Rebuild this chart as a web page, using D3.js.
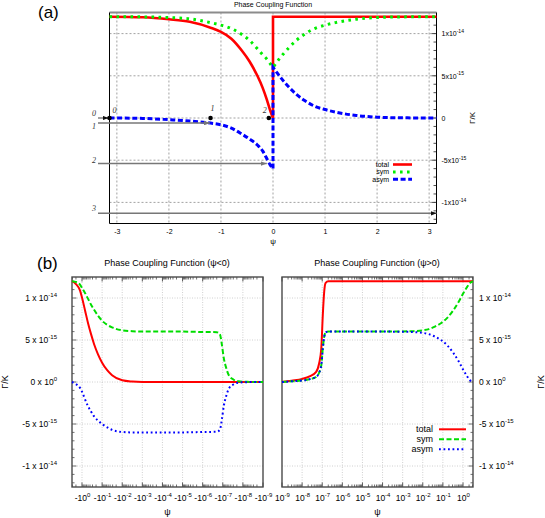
<!DOCTYPE html>
<html><head><meta charset="utf-8">
<script src="https://cdn.jsdelivr.net/npm/d3@7"></script>
<style>
body{margin:0;background:#fff}
svg{display:block;font-family:"Liberation Sans",Arial,sans-serif}
</style></head><body>
<svg id="c" width="545" height="518"></svg>
<script>
// ---------------- DATA (values in units of 1e-15) ----------------
// Panel (a): psi from -pi to pi (0 appears twice: left / right limit)
const psiA   = [-3.1416,-2.5,-2,-1.6,-1.2,-1.0,-0.8,-0.6,-0.45,-0.3,-0.2,-0.12,-0.06,-0.02,0,
                0,0.06,0.12,0.2,0.3,0.45,0.6,0.8,1.0,1.2,1.6,2.0,2.5,3.1416];
const totalA = [12,11.93,11.7,11.4,10.7,10.2,9.4,8.0,6.7,5.0,3.6,2.2,1.0,0.3,0,
                12,12,12,12,12,12,12,12,12,12,12,12,12,12];
const symA   = [12,11.98,11.9,11.75,11.3,11.0,10.6,9.9,9.2,8.2,7.5,7.0,6.5,6.15,6.0,
                6.0,6.5,7.0,7.6,8.3,9.2,9.9,10.6,11.0,11.3,11.7,11.9,11.98,12];
const asymA  = [0,-0.05,-0.2,-0.35,-0.6,-0.8,-1.2,-1.9,-2.5,-3.2,-3.9,-4.8,-5.5,-5.85,-6.0,
                6.0,5.5,5.0,4.4,3.7,2.8,2.1,1.4,1.0,0.7,0.3,0.1,0.02,0];
const xTicksA = [-3,-2,-1,0,1,2,3];
const xLabelsA = ["-3","-2","-1","0","1","2","3"];
const yTicksA = [10,5,0,-5,-10];
const yLabelsA = [["1x10","-14"],["5x10","-15"],["0",""],["-5x10","-15"],["-1x10","-14"]];
// annotation points and arrows in (a)
const annPsi = [-3.1416,-1.2,-0.08];
const annLabels = ["0","1","2"];
const arrowLabels = ["0","1","2","3"];
const arrowLevel = [0,-0.6,-5.4,-11.3];
const arrowEnd = [-3.1416,-1.21,-0.12,3.1416];

// Panel (b) left: psi < 0
const psiBL   = [-3.1416,-2,-1.26,-1,-0.71,-0.5,-0.355,-0.25,-0.16,-0.1,-0.056,-0.032,-0.01,-3.2e-3,-1e-3,-1e-4,-1e-5,-1e-6,-2e-7,-1.4e-7,-1.1e-7,-9e-8,-7e-8,-5e-8,-3e-8,-1.6e-8,-6e-9,-1e-9];
const totalBL = [12,11.65,10.9,10.05,8.55,7.0,5.7,4.5,3.3,2.3,1.4,0.8,0.2,0.05,0,0,0,0,0,0,0,0,0,0,0,0,0,0];
const symBL   = [12,11.9,11.6,11.2,10.6,9.9,9.2,8.6,7.9,7.3,6.8,6.5,6.15,6.05,6.0,6.0,6.0,5.95,5.93,5.7,4.4,2.9,1.8,0.8,0.3,0.08,0.02,0];
const asymBL  = [0,-0.25,-0.7,-1.15,-2.05,-2.9,-3.5,-4.1,-4.6,-5.0,-5.4,-5.7,-5.95,-6.0,-6.0,-6.0,-6.0,-5.95,-5.93,-5.7,-4.4,-2.9,-1.8,-0.8,-0.3,-0.08,-0.02,0];
// Panel (b) right: psi > 0
const psiBR   = [1e-9,3e-9,1e-8,2.5e-8,5e-8,7e-8,9e-8,1.07e-7,1.26e-7,1.48e-7,2e-7,3e-7,1e-6,1e-5,1e-4,1e-3,3.2e-3,0.01,0.02,0.04,0.08,0.16,0.32,0.63,1,1.58,2.24,3.1416];
const totalBR = [0,0.16,0.36,0.7,1.2,2.2,4.0,8.0,10.8,11.8,12,12,12,12,12,12,12,12,12,12,12,12,12,12,12,12,12,12];
const symBR   = [0,0.08,0.18,0.35,0.6,1.1,2.0,4.0,5.4,5.9,6.0,6.0,6.0,6.0,6.0,6.02,6.05,6.15,6.3,6.6,7.0,7.6,8.5,9.6,10.5,11.3,11.8,12];
const asymBR  = [0,0.08,0.18,0.35,0.6,1.1,2.0,4.0,5.4,5.9,6.0,6.0,6.0,6.0,6.0,5.98,5.95,5.85,5.7,5.4,5.0,4.4,3.5,2.4,1.5,0.7,0.2,0];
const decadesB = [1,1e-1,1e-2,1e-3,1e-4,1e-5,1e-6,1e-7,1e-8,1e-9];
const xLabelsBL = [["-10","0"],["-10","-1"],["-10","-2"],["-10","-3"],["-10","-4"],["-10","-5"],["-10","-6"],["-10","-7"],["-10","-8"],["-10","-9"]];
const xLabelsBR = [["10","0"],["10","-1"],["10","-2"],["10","-3"],["10","-4"],["10","-5"],["10","-6"],["10","-7"],["10","-8"],["10","-9"]];
const yTicksB = [10,5,0,-5,-10];
const yLabelsB = [["1 x 10","-14"],["5 x 10","-15"],["0 x 10","0"],["-5 x 10","-15"],["-1 x 10","-14"]];
const seriesNames = ["total","sym","asym"];

// ---------------- DRAW ----------------
const svg = d3.select("#c");
const defs = svg.append("defs");
function marker(id, color){
  defs.append("marker").attr("id",id).attr("viewBox","0 0 8 6").attr("refX",8).attr("refY",3)
    .attr("markerWidth",6).attr("markerHeight",4.5).attr("orient","auto").attr("markerUnits","userSpaceOnUse")
    .append("path").attr("d","M0,0L8,3L0,6z").attr("fill",color);
}
marker("arrG","#777"); marker("arrK","#111");

function supify(sel, labels, fs, ss){
  sel.each(function(d,i){
    const t=d3.select(this); const L=labels[i]; t.text(null);
    t.append("tspan").text(L[0]);
    if(L[1]) t.append("tspan").attr("dy",-fs*0.45).attr("font-size",ss).text(L[1]);
  });
}

// ===== Panel (a) =====
const xA = d3.scaleLinear().domain([-3.1416,3.1416]).range([109.5,436.5]);
const yA = d3.scaleLinear().domain([-12.5,12.5]).range([223.5,12.5]);
const gA = svg.append("g");
// grid
gA.append("g").selectAll("line").data(xTicksA).join("line")
  .attr("x1",d=>xA(d)).attr("x2",d=>xA(d)).attr("y1",yA(12.5)).attr("y2",yA(-12.5))
  .attr("stroke","#8a8a8a").attr("stroke-width",0.8).attr("stroke-dasharray","2,2");
gA.append("g").selectAll("line").data(yTicksA).join("line")
  .attr("x1",xA(-3.1416)).attr("x2",xA(3.1416)).attr("y1",d=>yA(d)).attr("y2",d=>yA(d))
  .attr("stroke","#8a8a8a").attr("stroke-width",0.8).attr("stroke-dasharray","2,2");
// right minor ticks
const minorA = d3.range(-12,13,1);
gA.append("g").selectAll("line").data(minorA).join("line")
  .attr("x1",xA(3.1416)).attr("x2",d=>xA(3.1416)-(d%5===0?5:3)).attr("y1",d=>yA(d)).attr("y2",d=>yA(d))
  .attr("stroke","#222").attr("stroke-width",0.8);
// frame
gA.append("line").attr("x1",xA(-3.1416)).attr("x2",xA(3.1416)).attr("y1",yA(12.5)).attr("y2",yA(12.5)).attr("stroke","#8c8c8c").attr("stroke-width",2.2);
gA.append("path").attr("d",`M${xA(-3.1416)},${yA(12.5)}V${yA(-12.5)}H${xA(3.1416)}V${yA(12.5)}`)
  .attr("fill","none").attr("stroke","#000").attr("stroke-width",1);
// axes
const axA = gA.append("g").attr("transform",`translate(0,${yA(-12.5)})`)
  .call(d3.axisBottom(xA).tickValues(xTicksA).tickSize(0).tickPadding(6).tickFormat((d,i)=>xLabelsA[i]));
axA.select(".domain").remove();
axA.selectAll("text").attr("font-size",7).attr("fill","#000").attr("font-family","Liberation Sans,Arial");
const ayA = gA.append("g").attr("transform",`translate(${xA(3.1416)},0)`)
  .call(d3.axisRight(yA).tickValues(yTicksA).tickSize(0).tickPadding(5));
ayA.select(".domain").remove();
ayA.selectAll("text").attr("font-size",7).attr("fill","#000").attr("font-family","Liberation Sans,Arial");
supify(ayA.selectAll("text"), yLabelsA, 7, 5);

// curves (a)
function segPath(xs, ys, xf, yf){
  const k = xs.indexOf(0);
  const pts = xs.map((x,i)=>[xf(x),yf(ys[i])]);
  const lg = d3.line().curve(d3.curveMonotoneX);
  return lg(pts.slice(0,k+1)) + lg(pts.slice(k+1)).replace(/^M/,"L");
}
gA.append("path").attr("d",segPath(psiA,totalA,xA,yA)).attr("fill","none").attr("stroke","#ff0000").attr("stroke-width",2.6);
gA.append("path").attr("d",segPath(psiA,symA,xA,yA)).attr("fill","none").attr("stroke","#00ee00").attr("stroke-width",3).attr("stroke-dasharray","2.6,4.4");
gA.append("path").attr("d",segPath(psiA,asymA,xA,yA)).attr("fill","none").attr("stroke","#0000ff").attr("stroke-width",3).attr("stroke-dasharray","5,2.6");

// annotations (a)
const arrowLabelOffset = [-2.5, 5.5, -1, -2];
gA.append("g").selectAll("line").data(arrowLevel).join("line")
  .attr("x1",98).attr("x2",(d,i)=>xA(arrowEnd[i])-(i===0?1:0)).attr("y1",d=>yA(d)).attr("y2",d=>yA(d))
  .attr("stroke",(d,i)=>i===0?"#111":"#777").attr("stroke-width",(d,i)=>i===0?0.8:1.5)
  .attr("marker-end",(d,i)=>i===0||i===3?"url(#arrK)":"url(#arrG)");
gA.append("g").selectAll("text").data(arrowLabels).join("text")
  .attr("x",96).attr("y",(d,i)=>yA(arrowLevel[i])+arrowLabelOffset[i])
  .attr("text-anchor","end").attr("font-family","Liberation Serif,serif").attr("font-style","italic")
  .attr("font-size",8).attr("fill","#333").text(d=>d);
gA.append("g").selectAll("circle").data(annPsi).join("circle")
  .attr("cx",d=>xA(d)).attr("cy",yA(0)).attr("r",2.3).attr("fill","#000");
gA.append("g").selectAll("text").data(annPsi).join("text")
  .attr("x",(d,i)=>xA(d)+(i===0?5:i===1?2:-4)).attr("y",(d,i)=>yA(0)-(i===1?7:5))
  .attr("text-anchor","middle").attr("font-family","Liberation Serif,serif").attr("font-style","italic")
  .attr("font-size",8).attr("fill","#333").text((d,i)=>annLabels[i]);

// labels (a)
svg.append("text").attr("x",273).attr("y",6.5).attr("text-anchor","middle").attr("font-size",7).text("Phase Coupling Function");
svg.append("text").attr("x",38).attr("y",18).attr("font-size",17).text("(a)");
svg.append("text").attr("x",273).attr("y",244).attr("text-anchor","middle").attr("font-size",8).text("ψ");
svg.append("text").attr("transform","translate(475,118) rotate(-90)").attr("text-anchor","middle").attr("font-size",8).text("Γ/K");

// legend (a)
const legA = svg.append("g");
const legStylesA = [{c:"#ff0000",w:2.6,da:null},{c:"#00ee00",w:3,da:"2.6,4.4"},{c:"#0000ff",w:3,da:"5,2.6"}];
seriesNames.forEach((n,i)=>{
  const y = 164.5 + i*7.4;
  legA.append("text").attr("x",389).attr("y",y+2.5).attr("text-anchor","end").attr("font-size",7).text(n);
  legA.append("line").attr("x1",393).attr("x2",412).attr("y1",y).attr("y2",y)
    .attr("stroke",legStylesA[i].c).attr("stroke-width",legStylesA[i].w).attr("stroke-dasharray",legStylesA[i].da);
});

// ===== Panel (b) =====
const yB = d3.scaleLinear().domain([-12.5,12.5]).range([487,277]);
const xBL = d3.scaleLog().domain([3.1416,1e-9]).range([72,263]);
const xBR = d3.scaleLog().domain([1e-9,3.1416]).range([282,473]);
const stylesB = [{c:"#ff0000",w:2,da:null},{c:"#00dd00",w:2,da:"5,2.5"},{c:"#0000ff",w:2,da:"1.8,2.7"}];

function minorVals(){
  const v=[];
  decadesB.forEach(d=>{ for(let k=2;k<=9;k++){ const m=k*d; if(m<=3.1416) v.push(m);} });
  return v;
}
function drawB(xs, sign, psi, tot, sym, asym, xLabels, yAxisRight, title, titleX){
  const g = svg.append("g");
  const [x0,x1] = xs.range();
  const gridX = decadesB.filter(d=>Math.abs(xs(d)-x0)>1 && Math.abs(xs(d)-x1)>1);
  g.append("g").selectAll("line").data(gridX).join("line")
    .attr("x1",d=>xs(d)).attr("x2",d=>xs(d)).attr("y1",yB(12.5)).attr("y2",yB(-12.5))
    .attr("stroke","#c4c4c4").attr("stroke-width",0.8).attr("stroke-dasharray","1,1.5");
  g.append("g").selectAll("line").data(yTicksB).join("line")
    .attr("x1",x0).attr("x2",x1).attr("y1",d=>yB(d)).attr("y2",d=>yB(d))
    .attr("stroke","#c4c4c4").attr("stroke-width",0.8).attr("stroke-dasharray","1,1.5");
  // minor & major x ticks (top & bottom)
  const mv = minorVals();
  [yB(-12.5),yB(12.5)].forEach((yy,j)=>{
    const dir = j===0?-1:1;
    g.append("g").selectAll("line").data(mv).join("line")
      .attr("x1",d=>xs(d)).attr("x2",d=>xs(d)).attr("y1",yy).attr("y2",yy+dir*2.5)
      .attr("stroke","#333").attr("stroke-width",0.7);
    g.append("g").selectAll("line").data(decadesB).join("line")
      .attr("x1",d=>xs(d)).attr("x2",d=>xs(d)).attr("y1",yy).attr("y2",yy+dir*4.5)
      .attr("stroke","#333").attr("stroke-width",0.8);
  });
  // y ticks
  const ax = yAxisRight ? x1 : x0; const dir = yAxisRight ? -1 : 1;
  g.append("g").selectAll("line").data(d3.range(-12,13,1)).join("line")
    .attr("x1",ax).attr("x2",d=>ax+dir*(d%5===0?4.5:2.5)).attr("y1",d=>yB(d)).attr("y2",d=>yB(d))
    .attr("stroke","#333").attr("stroke-width",0.7);
  // frame
  g.append("rect").attr("x",x0).attr("y",yB(12.5)).attr("width",x1-x0).attr("height",yB(-12.5)-yB(12.5))
    .attr("fill","none").attr("stroke","#4a4a4a").attr("stroke-width",1.4);
  // axes labels
  const axg = g.append("g").attr("transform",`translate(0,${yB(-12.5)})`)
    .call(d3.axisBottom(xs).tickValues(decadesB).tickSize(0).tickPadding(8).tickFormat((d,i)=>xLabels[i][0]));
  axg.select(".domain").remove();
  axg.selectAll("text").attr("font-size",8.5).attr("fill","#000").attr("font-family","Liberation Sans,Arial");
  supify(axg.selectAll("text"), xLabels, 8.5, 6);
  const yAxis = yAxisRight ? d3.axisRight(yB).tickPadding(6) : d3.axisLeft(yB).tickPadding(15);
  const ayg = g.append("g").attr("transform",`translate(${ax},0)`)
    .call(yAxis.tickValues(yTicksB).tickSize(0));
  ayg.select(".domain").remove();
  ayg.selectAll("text").attr("font-size",8.5).attr("fill","#000").attr("font-family","Liberation Sans,Arial");
  supify(ayg.selectAll("text"), yLabelsB, 8.5, 6);
  // curves
  const lg = d3.line().curve(d3.curveMonotoneX).x(d=>xs(sign*d[0])).y(d=>yB(d[1]));
  [tot,sym,asym].forEach((arr,i)=>{
    const pts = psi.map((p,k)=>[p,arr[k]]);
    g.append("path").attr("d",lg(pts)).attr("fill","none").attr("stroke",stylesB[i].c)
      .attr("stroke-width",stylesB[i].w).attr("stroke-dasharray",stylesB[i].da);
  });
  // title
  svg.append("text").attr("x",titleX).attr("y",265.5).attr("text-anchor","middle").attr("font-size",9).text(title);
  svg.append("text").attr("x",(x0+x1)/2).attr("y",515).attr("text-anchor","middle").attr("font-size",9).text("ψ");
  return g;
}
drawB(xBL,-1,psiBL,totalBL,symBL,asymBL,xLabelsBL,false,"Phase Coupling Function (ψ<0)",167);
drawB(xBR,1,psiBR,totalBR,symBR,asymBR,xLabelsBR,true,"Phase Coupling Function (ψ>0)",377);

svg.append("text").attr("x",37).attr("y",269).attr("font-size",17).text("(b)");
svg.append("text").attr("transform","translate(8,382) rotate(-90)").attr("text-anchor","middle").attr("font-size",9).text("Γ/K");
svg.append("text").attr("transform","translate(544,382) rotate(-90)").attr("text-anchor","middle").attr("font-size",9).text("Γ/K");

// legend (b)
const legB = svg.append("g");
seriesNames.forEach((n,i)=>{
  const y = 429.3 + i*10;
  legB.append("text").attr("x",433).attr("y",y+3).attr("text-anchor","end").attr("font-size",9).text(n);
  legB.append("line").attr("x1",439).attr("x2",466).attr("y1",y).attr("y2",y)
    .attr("stroke",stylesB[i].c).attr("stroke-width",stylesB[i].w).attr("stroke-dasharray",stylesB[i].da);
});
</script></body></html>
